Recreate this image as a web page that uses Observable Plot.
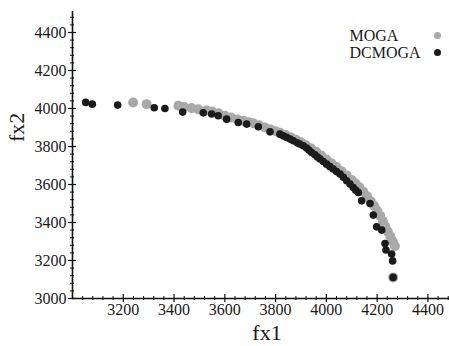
<!DOCTYPE html>
<html>
<head>
<meta charset="utf-8">
<script src="https://cdn.jsdelivr.net/npm/d3@7"></script>
<script src="https://cdn.jsdelivr.net/npm/@observablehq/plot@0.6"></script>
<style>
  html, body { margin: 0; padding: 0; background: #fff; }
  svg { display: block; }
</style>
</head>
<body>
<div id="chart"></div>
<script>
// Series names (legend)
const seriesNames = ["MOGA", "DCMOGA"];
const seriesColors = ["#a9a9a9", "#1b1b1b"];

// MOGA points
const mogaFx1 = [3239,3292,3417,3440,3469,3495,3528,3550,3575,3600,3625,3650,3673,3695,3712,3735,3758,3780,3800,3817,3840,3860,3880,3900,3920,3940,3960,3980,4000,4020,4040,4060,4080,4100,4115,4130,4145,4160,4175,4188,4200,4212,4222,4232,4242,4252,4262,4270,4263];
const mogaFx2 = [4032,4023,4015,4008,4002,3996,3990,3984,3975,3962,3952,3942,3935,3928,3922,3912,3900,3890,3880,3872,3860,3848,3835,3822,3806,3790,3772,3752,3732,3712,3692,3670,3648,3624,3605,3585,3562,3538,3512,3488,3462,3435,3408,3380,3352,3326,3300,3276,3111];

// DCMOGA points
const dcFx1 = [3052,3078,3178,3322,3364,3434,3515,3548,3574,3607,3653,3686,3732,3778,3817,3830,3843,3857,3870,3885,3895,3909,3922,3932,3942,3955,3965,3975,3988,4001,4014,4027,4040,4054,4067,4080,4093,4106,4116,4126,4139,4172,4185,4198,4218,4231,4235,4257,4261,4263];
const dcFx2 = [4032,4023,4018,4004,4000,3981,3977,3971,3962,3944,3926,3918,3904,3877,3865,3856,3848,3839,3830,3820,3813,3804,3792,3780,3768,3756,3745,3734,3721,3707,3694,3681,3668,3655,3638,3620,3602,3584,3570,3558,3514,3500,3439,3377,3360,3289,3255,3234,3198,3111];

// Axis ticks
const xMajor = [3200, 3400, 3600, 3800, 4000, 4200, 4400];
const yMajor = [3000, 3200, 3400, 3600, 3800, 4000, 4200, 4400];
const xMinor = d3.range(3040, 4481, 40).filter(v => v % 200 !== 0);
const yMinor = d3.range(3040, 4481, 40).filter(v => v % 200 !== 0);
const xLabel = "fx1";
const yLabel = "fx2";

const moga = mogaFx1.map((x, i) => ({x, y: mogaFx2[i]}));
const dc = dcFx1.map((x, i) => ({x, y: dcFx2[i]}));

const font = "'Liberation Serif', 'DejaVu Serif', serif";

const legendMarks = seriesNames.flatMap((name, i) => [
  Plot.text([name], {text: d => d, frameAnchor: "top-left", lineAnchor: "middle", dx: 277, dy: 22 + i * 17,
    textAnchor: "start", fontSize: 16, fill: "#1a1a1a", fontFamily: font}),
  Plot.dot([name], {frameAnchor: "top-left", dx: 365, dy: 22 + i * 17, r: 3.5,
    fill: seriesColors[i], stroke: "none"})
]);

const chart = Plot.plot({
  width: 449,
  height: 346,
  marginLeft: 72,
  marginRight: 0,
  marginTop: 13,
  marginBottom: 48,
  style: {fontFamily: font, background: "#fff", color: "#1a1a1a"},
  x: {domain: [3000, 4485]},
  y: {domain: [3000, 4500]},
  marks: [
    Plot.axisX({ticks: xMajor, tickFormat: d => String(d), tickSize: 0, tickPadding: 5, fontSize: 16, label: null, fill: "#1a1a1a"}),
    Plot.axisY({ticks: yMajor, tickFormat: d => String(d), tickSize: 0, tickPadding: 6, fontSize: 16, label: null, fill: "#1a1a1a"}),
    // axis lines
    Plot.ruleX([3000], {stroke: "#111", strokeWidth: 1.6, insetTop: -2}),
    Plot.ruleY([3000], {stroke: "#111", strokeWidth: 1.6}),
    // major ticks (crossing)
    Plot.ruleX(xMajor, {x: d => d, y1: 3000, y2: 3000, insetTop: -4, insetBottom: -4, stroke: "#111", strokeWidth: 1.2}),
    Plot.ruleY(yMajor, {y: d => d, x1: 3000, x2: 3000, insetLeft: -4, insetRight: -4, stroke: "#111", strokeWidth: 1.2}),
    // minor ticks
    Plot.ruleX(xMinor, {x: d => d, y1: 3000, y2: 3000, insetTop: -2, insetBottom: -2, stroke: "#111", strokeWidth: 1}),
    Plot.ruleY(yMinor, {y: d => d, x1: 3000, x2: 3000, insetLeft: -2, insetRight: -2, stroke: "#111", strokeWidth: 1}),
    // data
    Plot.dot(moga, {x: "x", y: "y", r: 5, fill: seriesColors[0], stroke: "none"}),
    Plot.dot(dc, {x: "x", y: "y", r: 3.8, fill: seriesColors[1], stroke: "none"}),
    // axis titles
    Plot.text([xLabel], {text: d => d, frameAnchor: "bottom", lineAnchor: "middle", dx: 6, dy: 34, fontSize: 22, fill: "#1a1a1a", fontFamily: font}),
    Plot.text([yLabel], {text: d => d, frameAnchor: "left", lineAnchor: "middle", dx: -56, dy: -14, rotate: -90, fontSize: 22, fill: "#1a1a1a", fontFamily: font}),
    ...legendMarks
  ]
});
document.getElementById("chart").appendChild(chart);
</script>
</body>
</html>
